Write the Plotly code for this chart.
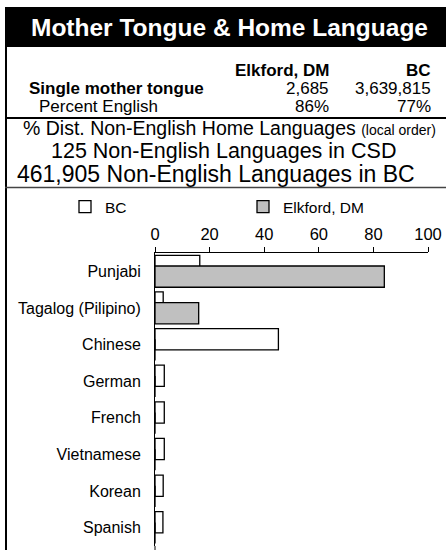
import plotly.graph_objects as go

# ---- data ----
languages = ["Punjabi", "Tagalog (Pilipino)", "Chinese", "German", "French",
             "Vietnamese", "Korean", "Spanish"]
bc_values = [16.4, 3.0, 45.2, 3.4, 3.4, 3.4, 3.0, 2.9]
elkford_values = [84.0, 16.0, 0, 0, 0, 0, 0, 0]
x_ticks = [0, 20, 40, 60, 80, 100]

title_text = "Mother Tongue & Home Language"
col_headers = ["Elkford, DM", "BC"]
single_mt = ["2,685", "3,639,815"]
pct_english = ["86%", "77%"]
dist_line = "% Dist. Non-English Home Languages"
dist_note = "(local order)"
csd_line = "125 Non-English Languages in CSD"
bc_line = "461,905 Non-English Languages in BC"

FONT = "Liberation Sans, Arial, sans-serif"
W, H = 446, 550
L, R, T, B = 155, 428, 253, 546


def px(x):
    return (x - L) / (R - L)


def py(y):
    return (B - y) / (B - T)


fig = go.Figure()
fig.add_trace(go.Bar(
    name="BC", y=languages, x=bc_values, orientation="h",
    width=0.58, offset=-0.436, legend="legend", showlegend=True,
    marker=dict(color="white", line=dict(color="black", width=1.3)),
))
fig.add_trace(go.Bar(
    name="Elkford, DM", y=languages, x=elkford_values, orientation="h",
    width=0.58, offset=-0.145, legend="legend2", showlegend=True,
    marker=dict(color="#c0c0c0", line=dict(color="black", width=1.3)),
))

shapes = [
    # black title bar
    dict(type="rect", xref="paper", yref="paper", x0=px(5), x1=px(447),
         y0=py(47), y1=py(7), fillcolor="black", line=dict(width=0)),
    # left border
    dict(type="line", xref="paper", yref="paper", x0=px(6), x1=px(6),
         y0=py(47), y1=py(551), line=dict(color="black", width=2)),
    # separator lines
    dict(type="line", xref="paper", yref="paper", x0=px(5), x1=px(447),
         y0=py(118), y1=py(118), line=dict(color="black", width=2)),
    dict(type="line", xref="paper", yref="paper", x0=px(5), x1=px(447),
         y0=py(187.5), y1=py(187.5), line=dict(color="#444", width=1.5)),
    # extend y axis line to bottom
    dict(type="line", xref="paper", yref="paper", x0=0, x1=0,
         y0=py(546), y1=py(551), line=dict(color="black", width=1)),
]

ann = []


def add_text(text, x, y, size, anchor="left", bold=False, color="black"):
    t = f"<b>{text}</b>" if bold else text
    ann.append(dict(text=t, xref="paper", yref="paper", x=px(x), y=py(y),
                    xanchor=anchor, yanchor="middle", showarrow=False,
                    font=dict(family=FONT, size=size, color=color)))


add_text(title_text, 229, 27.5, 24.5, "center", bold=True, color="white")
add_text(col_headers[0], 331, 70, 17, "right", bold=True)
add_text(col_headers[1], 433, 70, 17, "right", bold=True)
add_text("Single mother tongue", 27, 88.5, 17, "left", bold=True)
add_text(single_mt[0], 331, 88.5, 17, "right")
add_text(single_mt[1], 433, 88.5, 17, "right")
add_text("Percent English", 37, 107, 17, "left")
add_text(pct_english[0], 331, 107, 17, "right")
add_text(pct_english[1], 433, 107, 17, "right")
add_text(f"{dist_line} <span style='font-size:14px'>{dist_note}</span>",
         229.5, 128, 19.5, "center")
add_text(csd_line, 223, 151, 21.5, "center")
add_text(bc_line, 216, 174, 23, "center")

legend_common = dict(orientation="h", xref="container", yref="container",
                     y=1 - 207 / H, xanchor="left", yanchor="middle",
                     font=dict(size=15.5), bgcolor="rgba(0,0,0,0)",
                     visible=True)

fig.update_layout(
    width=W, height=H,
    margin=dict(l=L, r=W - R, t=T, b=H - B, pad=0),
    paper_bgcolor="white", plot_bgcolor="white",
    barmode="overlay", showlegend=True,
    font=dict(family=FONT, size=16, color="black"),
    shapes=shapes, annotations=ann,
    legend=dict(x=65 / W, **legend_common),
    legend2=dict(x=243 / W, **legend_common),
    xaxis=dict(side="top", range=[0, 100], tickvals=x_ticks,
               ticks="outside", ticklen=5, tickcolor="black",
               showline=True, linecolor="black", linewidth=1,
               showgrid=False, zeroline=False, automargin=False,
               tickfont=dict(size=16.5)),
    yaxis=dict(type="category", categoryorder="array", categoryarray=languages,
               range=[7.5, -0.5], showline=True, linecolor="black",
               linewidth=1, ticks="", showgrid=False, automargin=False,
               ticklabelstandoff=10, tickfont=dict(size=16)),
)

fig.write_html(
    "out.html",
    config={"displayModeBar": False},
    post_script="document.body.style.margin='0';"
                "document.body.style.overflow='hidden';",
)
